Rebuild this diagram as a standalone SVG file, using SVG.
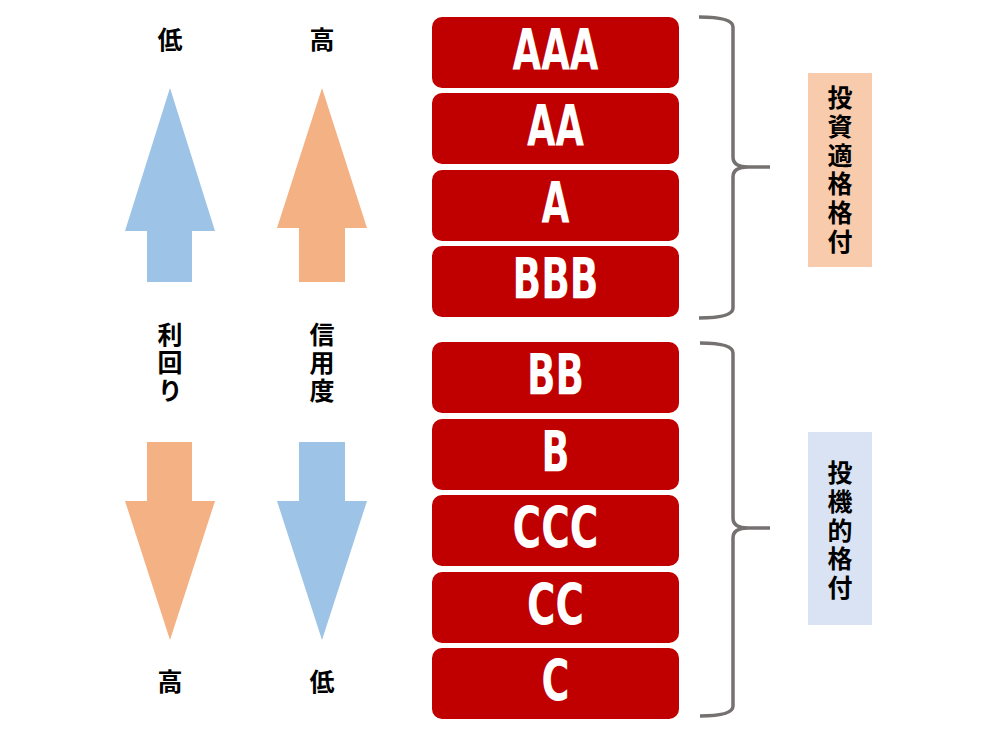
<svg xmlns="http://www.w3.org/2000/svg" width="994" height="754" viewBox="0 0 994 754">
<style>
.box{fill:#C00000}
.rt{fill:#fff;font-family:"DejaVu Sans",sans-serif;font-weight:bold;font-size:57px;text-anchor:middle}
.jp{fill:#000;font-family:"Noto Sans CJK JP",sans-serif;font-weight:bold;font-size:25px;text-anchor:middle}
.vt{fill:#000;font-family:"Noto Sans CJK JP",sans-serif;font-weight:bold;font-size:25px;writing-mode:vertical-rl;text-anchor:start}
.brace{fill:none;stroke:#767171;stroke-width:3.5}
.blue{fill:#9DC3E6}
.orange{fill:#F4B183}
</style>
<rect width="994" height="754" fill="#fff"/>
<g id="arrow-yield-up"><polygon class="blue" points="170,88 215,231 192,231 192,282 147,282 147,231 125,231"/></g>
<g id="arrow-credit-up"><polygon class="orange" points="322,88 367,228 345,228 345,282 299,282 299,228 277,228"/></g>
<g id="arrow-yield-down"><polygon class="orange" points="147,442 192,442 192,501 215,501 170,640 125,501 147,501"/></g>
<g id="arrow-credit-down"><polygon class="blue" points="299,442 345,442 345,501 367,501 322,640 277,501 299,501"/></g>
<g id="labels-left">
<text class="jp" x="170" y="49">低</text>
<text class="jp" x="322" y="49">高</text>
<text class="jp" x="170" y="691">高</text>
<text class="jp" x="322" y="691">低</text>
<text class="vt" x="170" y="322" letter-spacing="3">利回り</text>
<text class="vt" x="322" y="322" letter-spacing="3">信用度</text>
</g>
<g id="r-AAA"><rect class="box" x="432" y="17" width="247" height="71" rx="10"/><text class="rt" x="555.5" y="70" textLength="86" lengthAdjust="spacingAndGlyphs">AAA</text></g>
<g id="r-AA"><rect class="box" x="432" y="93" width="247" height="71" rx="10"/><text class="rt" x="555.5" y="146" textLength="57" lengthAdjust="spacingAndGlyphs">AA</text></g>
<g id="r-A"><rect class="box" x="432" y="170" width="247" height="71" rx="10"/><text class="rt" x="555.5" y="223" textLength="28" lengthAdjust="spacingAndGlyphs">A</text></g>
<g id="r-BBB"><rect class="box" x="432" y="246" width="247" height="71" rx="10"/><text class="rt" x="555.5" y="299" textLength="86" lengthAdjust="spacingAndGlyphs">BBB</text></g>
<g id="r-BB"><rect class="box" x="432" y="342" width="247" height="71" rx="10"/><text class="rt" x="555.5" y="395" textLength="57" lengthAdjust="spacingAndGlyphs">BB</text></g>
<g id="r-B"><rect class="box" x="432" y="419" width="247" height="71" rx="10"/><text class="rt" x="555.5" y="472" textLength="28" lengthAdjust="spacingAndGlyphs">B</text></g>
<g id="r-CCC"><rect class="box" x="432" y="495" width="247" height="71" rx="10"/><text class="rt" x="555.5" y="548" textLength="86" lengthAdjust="spacingAndGlyphs">CCC</text></g>
<g id="r-CC"><rect class="box" x="432" y="572" width="247" height="71" rx="10"/><text class="rt" x="555.5" y="625" textLength="57" lengthAdjust="spacingAndGlyphs">CC</text></g>
<g id="r-C"><rect class="box" x="432" y="648" width="247" height="71" rx="10"/><text class="rt" x="555.5" y="701" textLength="28" lengthAdjust="spacingAndGlyphs">C</text></g>
<g id="connectors">
<path class="brace" d="M699,17 Q733,17 733,27 L733,157 Q733,167 748,167 L770,167 M748,167 Q733,167 733,177 L733,308 Q733,318 699,318"/>
<path class="brace" d="M700,343 Q733,343 733,353 L733,518 Q733,528 748,528 L770,528 M748,528 Q733,528 733,538 L733,706 Q733,716 700,716"/>
</g>
<g id="investment-grade"><rect x="808" y="73" width="64" height="194" fill="#F8CBAD"/>
<text class="vt" x="840" y="85" letter-spacing="3.8">投資適格格付</text></g>
<g id="speculative-grade"><rect x="808" y="432" width="64" height="193" fill="#DAE3F3"/>
<text class="vt" x="840" y="460" letter-spacing="3.8">投機的格付</text></g>
</svg>
